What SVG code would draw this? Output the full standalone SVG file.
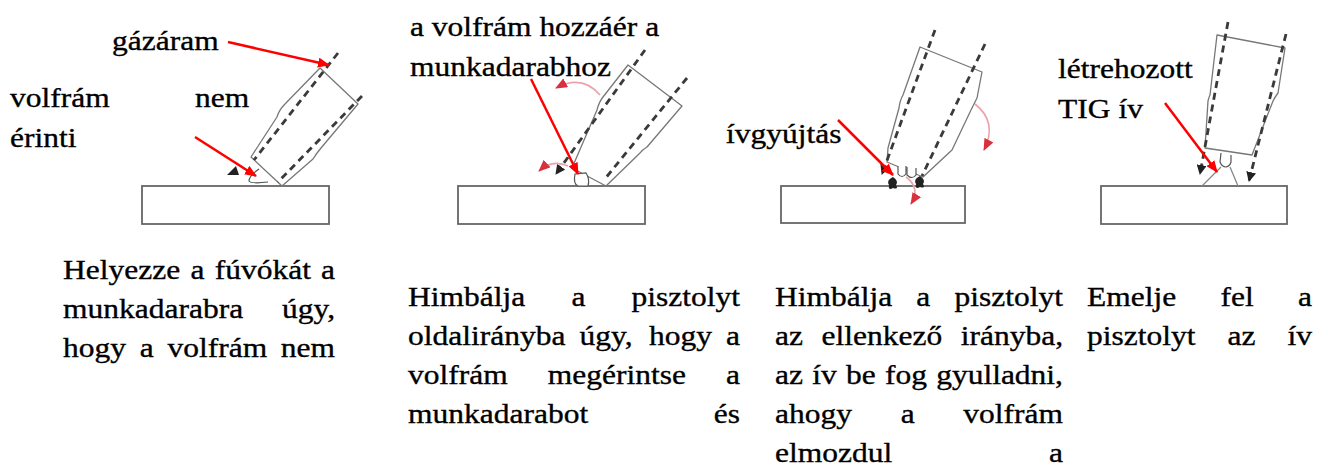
<svg xmlns="http://www.w3.org/2000/svg" width="1328" height="475" viewBox="0 0 1328 475">
  <style>
    .txt { font-family: 'Liberation Serif', 'Times New Roman', serif; font-size: 28px; fill: #000; stroke: #000; stroke-width: 0.35; }
    .work { fill: #fff; stroke: #666; stroke-width: 1.8; }
    .torch { fill: none; stroke: #777; stroke-width: 1.3; stroke-linejoin: round; }
    .tip { fill: #fff; stroke: #555; stroke-width: 1.2; }
    .gas { fill: none; stroke: #3a3a3a; stroke-width: 2.8; stroke-dasharray: 7 5; }
    .callout { fill: none; stroke: #ff0000; stroke-width: 2.5; marker-end: url(#redHead); }
    .swing { fill: none; stroke: #eba3ab; stroke-width: 1.6; marker-end: url(#pinkHead); }
    .arc { fill: none; stroke: #888; stroke-width: 1.3; }
    .blk { fill: #222; }
  </style>
  <defs>
    <marker id="redHead" viewBox="0 0 12 10" refX="11" refY="5" markerWidth="12" markerHeight="10" markerUnits="userSpaceOnUse" orient="auto">
      <path d="M0,0 L12,5 L0,10 z" fill="#ff0000"/>
    </marker>
    <marker id="pinkHead" viewBox="0 0 12 10" refX="11" refY="5" markerWidth="12" markerHeight="10" markerUnits="userSpaceOnUse" orient="auto">
      <path d="M0,0 L12,5 L0,10 z" fill="#d8303c"/>
    </marker>
    <marker id="gasHead" viewBox="0 0 10 10" refX="9" refY="5" markerWidth="10" markerHeight="10" markerUnits="userSpaceOnUse" orient="auto">
      <path d="M0,0 L10,5 L0,10 z" fill="#222"/>
    </marker>
  </defs>

  <rect width="1328" height="475" fill="#fff"/>

  <!-- Step 1: nozzle placed on the workpiece, tungsten clear -->
  <g id="step1">
    <rect class="work" x="142" y="186" width="187" height="38"/>
    <path class="torch" d="M251,157 L277,117 Q279,110 285,104 L320,68 L358,104 L321,148 Q316,154 313,159 L282,186 Z"/>
    <path class="tip" d="M259,169 Q249,176 249,181 Q251,184 268,182"/>
    <line class="gas" x1="338" y1="53" x2="254" y2="160"/>
    <line class="gas" x1="362" y1="96" x2="278" y2="182"/>
    <path class="blk" d="M227,175 L236,166 L239,175 Z"/>
  </g>

  <!-- Step 2: torch tilted so the tungsten touches -->
  <g id="step2">
    <rect class="work" x="458" y="186" width="187" height="38"/>
    <path class="torch" d="M572,168 L597,110 Q599,102 603,97 L628,65 L682,106 L647,147 Q642,150 640,153 L606,186 Z"/>
    <path class="tip" d="M575,174 Q573,184 578,186 L588,186 Q590,179 586,173 Z"/>
    <line class="gas" x1="645" y1="50" x2="556" y2="174" marker-end="url(#gasHead)"/>
    <line class="gas" x1="687" y1="78" x2="604" y2="180"/>
    <path class="swing" d="M600,95 Q582,74 556,88"/>
    <path class="swing" d="M568,166 Q552,159 539,171"/>
  </g>

  <!-- Step 3: torch swung back, arc strikes -->
  <g id="step3">
    <rect class="work" x="781" y="186" width="184" height="37"/>
    <path class="torch" d="M887,162 L888,148 L899,108 Q900,100 903,95 L920,47 L982,72 L977,98 Q974,104 971,110 L952,150 L923,177 Z"/>
    <path class="tip" d="M898,166 L898,174 Q902,179 906,174 L906,166"/>
    <path class="tip" d="M907,167 L907,175 Q912,180 916,175 L916,168"/>
    <line class="gas" x1="935" y1="30" x2="882" y2="174" marker-end="url(#gasHead)"/>
    <line class="gas" x1="985" y1="44" x2="922" y2="176"/>
    <path class="blk" d="M893,177 Q899,181 896,185 Q899,190 893,188 Q888,191 889,185 Q886,180 893,177 Z"/>
    <path class="blk" d="M920,176 Q926,180 923,184 Q926,189 920,187 Q915,190 916,184 Q913,179 920,176 Z"/>
    <path class="swing" d="M975,104 Q998,122 984,150"/>
    <path class="swing" d="M906,177 Q921,188 911,204"/>
  </g>

  <!-- Step 4: torch lifted, TIG arc burning -->
  <g id="step4">
    <rect class="work" x="1101" y="186" width="186" height="38"/>
    <path class="torch" d="M1205,148 L1208,101 Q1209,97 1210,95 L1217,35 L1285,48 L1278,93 Q1275,97 1273,101 L1252,155 Z"/>
    <path class="tip" d="M1221,153 L1220,162 Q1222,167 1226,167 Q1230,166 1231,162 L1231,155"/>
    <path class="arc" d="M1221,167 L1202,186 M1230,167 L1238,186"/>
    <line class="gas" x1="1228" y1="22" x2="1200" y2="174" marker-end="url(#gasHead)"/>
    <line class="gas" x1="1286" y1="34" x2="1249" y2="181" marker-end="url(#gasHead)"/>
  </g>

  <!-- red callouts -->
  <g id="connectors">
    <line class="callout" x1="228" y1="42" x2="329" y2="65"/>
    <line class="callout" x1="195" y1="137" x2="256" y2="176"/>
    <line class="callout" x1="531" y1="79" x2="578" y2="174"/>
    <line class="callout" x1="838" y1="120" x2="893" y2="175"/>
    <line class="callout" x1="1165" y1="103" x2="1217" y2="172"/>
  </g>

  <!-- labels and captions, glyphs widened horizontally -->
  <g transform="scale(1.125 1)">
    <g id="labels" class="txt">
      <text x="99.6" y="50">gázáram</text>
      <text x="8.9" y="107">volfrám</text>
      <text x="173.4" y="107">nem</text>
      <text x="8.9" y="147">érinti</text>
      <text x="364.4" y="36">a volfrám hozzáér a</text>
      <text x="364.4" y="76">munkadarabhoz</text>
      <text x="645.3" y="143">ívgyújtás</text>
      <text x="940.5" y="78">létrehozott</text>
      <text x="940.5" y="118">TIG ív</text>
    </g>
    <g id="caption1" class="txt">
      <text y="279"><tspan x="56">Helyezze</tspan><tspan x="169.3">a</tspan><tspan x="190.9">fúvókát</tspan></text>
      <text y="279" x="297.8" text-anchor="end">a</text>
      <text y="318" x="56">munkadarabra</text>
      <text y="318" x="297.8" text-anchor="end">úgy,</text>
      <text y="357"><tspan x="56">hogy</tspan><tspan x="124.2">a</tspan><tspan x="148.9">volfrám</tspan></text>
      <text y="357" x="297.8" text-anchor="end">nem</text>
    </g>
    <g id="caption2" class="txt">
      <text y="306"><tspan x="362.7">Himbálja</tspan><tspan x="508">a</tspan></text>
      <text y="306" x="657.8" text-anchor="end">pisztolyt</text>
      <text y="345"><tspan x="362.7">oldalirányba</tspan><tspan x="515.2">úgy,</tspan><tspan x="576.8">hogy</tspan></text>
      <text y="345" x="657.8" text-anchor="end">a</text>
      <text y="384"><tspan x="362.7">volfrám</tspan><tspan x="487">megérintse</tspan></text>
      <text y="384" x="657.8" text-anchor="end">a</text>
      <text y="423" x="362.7">munkadarabot</text>
      <text y="423" x="657.8" text-anchor="end">és</text>
    </g>
    <g id="caption3" class="txt">
      <text y="306"><tspan x="688.9">Himbálja</tspan><tspan x="814.5">a</tspan></text>
      <text y="306" x="944.9" text-anchor="end">pisztolyt</text>
      <text y="345"><tspan x="688.9">az</tspan><tspan x="730.3">ellenkező</tspan></text>
      <text y="345" x="944.9" text-anchor="end">irányba,</text>
      <text y="384"><tspan x="688.9">az</tspan><tspan x="722">ív</tspan><tspan x="752">be</tspan><tspan x="786.7">fog</tspan></text>
      <text y="384" x="944.9" text-anchor="end">gyulladni,</text>
      <text y="423"><tspan x="688.9">ahogy</tspan><tspan x="800.6">a</tspan></text>
      <text y="423" x="944.9" text-anchor="end">volfrám</text>
      <text y="462" x="688.9">elmozdul</text>
      <text y="462" x="944.9" text-anchor="end">a</text>
    </g>
    <g id="caption4" class="txt">
      <text y="306"><tspan x="966.2">Emelje</tspan><tspan x="1084.9">fel</tspan></text>
      <text y="306" x="1166.2" text-anchor="end">a</text>
      <text y="345"><tspan x="966.2">pisztolyt</tspan><tspan x="1091.2">az</tspan></text>
      <text y="345" x="1166.2" text-anchor="end">ív</text>
    </g>
  </g>
</svg>
